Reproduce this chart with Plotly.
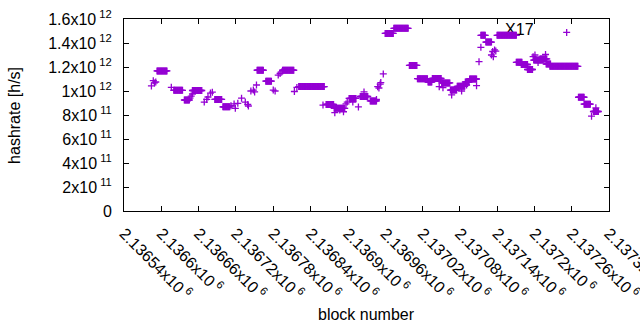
import plotly.graph_objects as go

# constant-hashrate runs of consecutive blocks (start block, end block, hashrate in 1e12 h/s)
run_start = [2136593, 2136620, 2136637, 2136650, 2136686, 2136699, 2136754, 2136768, 2136795,
             2136821, 2136865, 2136878, 2136902, 2136920, 2136936, 2136960, 2136974, 2136999,
             2137012, 2137029, 2137036, 2137051, 2137065, 2137076, 2137089, 2137096, 2137114,
             2137122, 2137140, 2137171, 2137179, 2137189, 2137199, 2137209, 2137219, 2137225,
             2137271, 2137280, 2137295]
run_end = [2136609, 2136634, 2136645, 2136665, 2136697, 2136710, 2136764, 2136777, 2136813,
           2136862, 2136877, 2136895, 2136913, 2136932, 2136946, 2136973, 2136997, 2137011,
           2137028, 2137035, 2137050, 2137064, 2137075, 2137088, 2137095, 2137107, 2137121,
           2137131, 2137171, 2137180, 2137189, 2137197, 2137214, 2137220, 2137226, 2137270,
           2137280, 2137290, 2137303]
run_value = [1.167, 1.006, 0.925, 1.004, 0.930, 0.868, 1.173, 1.082, 1.173,
             1.037, 0.888, 0.856, 0.938, 0.954, 0.917, 1.480, 1.522, 1.213,
             1.103, 1.075, 1.104, 1.067, 1.008, 1.039, 1.075, 1.100, 1.464,
             1.408, 1.464, 1.239, 1.221, 1.179, 1.258, 1.267, 1.225, 1.206,
             0.948, 0.890, 0.829]

# individual scattered blocks
pt_block = [2136584, 2136587, 2136589, 2136591, 2136616, 2136646, 2136648, 2136650,
            2136669, 2136673, 2136675, 2136679, 2136682, 2136712, 2136717, 2136719,
            2136723, 2136729, 2136735, 2136739, 2136740, 2136744, 2136748, 2136750,
            2136753, 2136780, 2136783, 2136788, 2136791, 2136794, 2136814, 2136818,
            2136860, 2136879, 2136887, 2136893, 2136897, 2136899, 2136908, 2136917,
            2136926, 2136946, 2136948, 2136950, 2136952, 2136953, 2136957, 2137047,
            2137053, 2137067, 2137083, 2137091, 2137107, 2137111, 2137114, 2137131,
            2137133, 2137134, 2137136, 2137138, 2137198, 2137201, 2137206, 2137218,
            2137252, 2137292, 2137299]
pt_value = [1.042, 1.086, 1.067, 1.075, 1.031, 0.940, 0.958, 0.975,
            0.908, 0.930, 0.950, 0.983, 0.990, 0.877, 0.892, 0.856,
            0.897, 0.940, 0.908, 0.888, 0.875, 1.000, 1.008, 0.992,
            1.050, 1.008, 1.000, 1.133, 1.146, 1.160, 0.996, 1.030,
            0.883, 0.819, 0.842, 0.827, 0.892, 0.908, 0.908, 0.867,
            0.992, 0.929, 1.036, 1.025, 1.058, 1.070, 1.142, 1.036,
            1.028, 0.967, 1.000, 1.050, 1.044, 1.244, 1.364, 1.300,
            1.329, 1.286, 1.342, 1.333, 1.286, 1.300, 1.237, 1.304,
            1.488, 0.790, 0.860]

x_ticks = [2136540, 2136600, 2136660, 2136720, 2136780, 2136840, 2136900,
           2136960, 2137020, 2137080, 2137140, 2137200, 2137260, 2137320]
x_tick_text = ["2.13654x10<sup> 6</sup>", "2.1366x10<sup> 6</sup>", "2.13666x10<sup> 6</sup>",
               "2.13672x10<sup> 6</sup>", "2.13678x10<sup> 6</sup>", "2.13684x10<sup> 6</sup>",
               "2.1369x10<sup> 6</sup>", "2.13696x10<sup> 6</sup>", "2.13702x10<sup> 6</sup>",
               "2.13708x10<sup> 6</sup>", "2.13714x10<sup> 6</sup>", "2.1372x10<sup> 6</sup>",
               "2.13726x10<sup> 6</sup>", "2.13732x10<sup> 6</sup>"]
y_ticks = [0, 2e11, 4e11, 6e11, 8e11, 1e12, 1.2e12, 1.4e12, 1.6e12]
y_tick_text = ["0", "2x10<sup> 11</sup>", "4x10<sup> 11</sup>", "6x10<sup> 11</sup>",
               "8x10<sup> 11</sup>", "1x10<sup> 12</sup>", "1.2x10<sup> 12</sup>",
               "1.4x10<sup> 12</sup>", "1.6x10<sup> 12</sup>"]

label_text = "X17"
label_block = 2137153
label_value = 1.496e12

xs, ys = [], []
for s, e, v in zip(run_start, run_end, run_value):
    for b in range(s, e + 1):
        xs.append(b)
        ys.append(v * 1e12)
for b, v in zip(pt_block, pt_value):
    xs.append(b)
    ys.append(v * 1e12)

FONT = "Liberation Sans, Arial, sans-serif"
fig = go.Figure()
fig.add_trace(go.Scatter(x=[label_block], y=[label_value], mode="text", text=[label_text],
                         textposition="middle right", textfont=dict(family=FONT, size=16, color="black"),
                         hoverinfo="skip", showlegend=False))
fig.add_trace(go.Scatter(x=xs, y=ys, mode="markers", showlegend=False,
                         marker=dict(symbol="cross-thin", size=5, color="#9400D3",
                                     line=dict(color="#9400D3", width=1.3))))

axis_common = dict(showline=True, linecolor="black", linewidth=1, mirror="allticks",
                   ticks="inside", ticklen=5, tickcolor="black", showgrid=False, zeroline=False,
                   automargin=False, ticklabeloverflow="allow",
                   tickfont=dict(family=FONT, size=16, color="black"))
fig.update_xaxes(range=[2136539.9, 2137320.1], tickvals=x_ticks, ticktext=x_tick_text,
                 tickangle=45, ticklabelstandoff=6, **axis_common)
fig.update_yaxes(range=[0, 1.6e12], tickvals=y_ticks, ticktext=y_tick_text,
                 ticklabelstandoff=8, **axis_common)

fig.update_layout(width=640, height=330, margin=dict(l=124, r=31, t=19, b=119),
                  plot_bgcolor="white", paper_bgcolor="white",
                  annotations=[
                      dict(text="hashrate [h/s]", xref="paper", yref="paper", x=-0.227, y=0.5,
                           xanchor="center", yanchor="middle", textangle=-90, showarrow=False,
                           font=dict(family=FONT, size=16, color="black")),
                      dict(text="block number", xref="paper", yref="paper", x=0.5, y=-0.54,
                           xanchor="center", yanchor="middle", showarrow=False,
                           font=dict(family=FONT, size=16, color="black")),
                  ])
fig.write_html("out.html", config={"displayModeBar": False},
               post_script="document.body.style.margin='0px';document.body.style.overflow='hidden';")
